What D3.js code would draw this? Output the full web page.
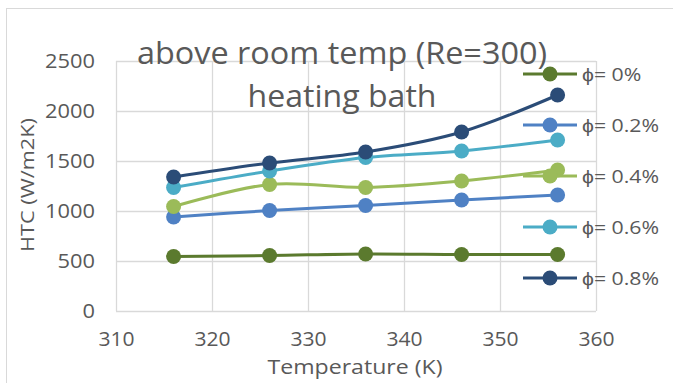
<!DOCTYPE html>
<html>
<head>
<meta charset="utf-8">
<script src="https://cdn.jsdelivr.net/npm/d3@7"></script>
<style>
  html, body { margin: 0; padding: 0; background: #fff; }
  svg { display: block; font-family: "Open Sans", sans-serif; }
</style>
</head>
<body>
<div id="chart"></div>
<script>
// Temperature (K) of each measurement
const temperatures = [316, 326, 336, 346, 356];

// Heat transfer coefficient (W/m2K) per nanofluid volume fraction
const htcPhi0  = [545, 555, 570, 565, 565];
const htcPhi02 = [940, 1005, 1055, 1110, 1160];
const htcPhi04 = [1045, 1265, 1235, 1300, 1410];
const htcPhi06 = [1235, 1400, 1535, 1600, 1710];
const htcPhi08 = [1340, 1480, 1590, 1790, 2160];

const seriesNames = ["ϕ= 0%", "ϕ= 0.2%", "ϕ= 0.4%", "ϕ= 0.6%", "ϕ= 0.8%"];
const seriesColors = ["#5b7a2e", "#4f81c4", "#9bbb59", "#4bacc6", "#2b4c77"];

const xTicks = [310, 320, 330, 340, 350, 360];
const yTicks = [0, 500, 1000, 1500, 2000, 2500];

const titleLines = ["above room temp (Re=300)", "heating bath"];
const xTitle = "Temperature (K)";
const yTitle = "HTC (W/m2K)";

const W = 673, H = 383;
const plot = { left: 116, right: 596, top: 61, bottom: 311 };
const textColor = "#595959";
const gridColor = "#d9d9d9";

const series = [htcPhi0, htcPhi02, htcPhi04, htcPhi06, htcPhi08].map((vals, i) => ({
  name: seriesNames[i],
  color: seriesColors[i],
  points: vals.map((v, j) => ({ x: temperatures[j], y: v }))
}));

const x = d3.scaleLinear().domain([310, 360]).range([plot.left, plot.right]);
const y = d3.scaleLinear().domain([0, 2500]).range([plot.bottom, plot.top]);

const svg = d3.select("#chart").append("svg").attr("width", W).attr("height", H);

// widen glyphs horizontally by a factor, or to a fixed length
function stretch(sel, factor) {
  sel.each(function () {
    const w = this.getComputedTextLength();
    d3.select(this).attr("textLength", w * factor).attr("lengthAdjust", "spacingAndGlyphs");
  });
}
function fitWidth(sel, width) {
  sel.attr("textLength", width).attr("lengthAdjust", "spacingAndGlyphs");
}

// chart frame
svg.append("rect")
  .attr("x", 6.5).attr("y", 8.5).attr("width", 720).attr("height", 420)
  .attr("fill", "#fff").attr("stroke", gridColor).attr("stroke-width", 1);

// gridlines via axes
svg.append("g")
  .attr("transform", `translate(0,${plot.bottom})`)
  .call(d3.axisBottom(x).tickValues(xTicks).tickSize(-(plot.bottom - plot.top)).tickFormat(""))
  .call(g => g.select(".domain").remove())
  .call(g => g.selectAll("line").attr("stroke", gridColor).attr("stroke-width", 1.3));

svg.append("g")
  .attr("transform", `translate(${plot.left},0)`)
  .call(d3.axisLeft(y).tickValues(yTicks).tickSize(-(plot.right - plot.left)).tickFormat(""))
  .call(g => g.select(".domain").remove())
  .call(g => g.selectAll("line").attr("stroke", gridColor).attr("stroke-width", 1.3));

// tick labels
const yLabels = svg.append("g")
  .attr("transform", `translate(${plot.left},0)`)
  .call(d3.axisLeft(y).tickValues(yTicks).tickFormat(d3.format("d")).tickSize(0).tickPadding(21))
  .call(g => g.select(".domain").remove());
yLabels.selectAll("text")
  .attr("fill", textColor).attr("font-size", 19.5).attr("font-family", "Open Sans, sans-serif");
stretch(yLabels.selectAll("text"), 1.12);

const xLabels = svg.append("g")
  .attr("transform", `translate(0,${plot.bottom})`)
  .call(d3.axisBottom(x).tickValues(xTicks).tickFormat(d3.format("d")).tickSize(0).tickPadding(21))
  .call(g => g.select(".domain").remove());
xLabels.selectAll("text")
  .attr("fill", textColor).attr("font-size", 19.5).attr("font-family", "Open Sans, sans-serif");
stretch(xLabels.selectAll("text"), 1.08);

// axis titles
svg.append("text")
  .attr("x", (plot.left + plot.right) / 2 - 1).attr("y", 374)
  .attr("text-anchor", "middle").attr("fill", textColor).attr("font-size", 19.5)
  .text(xTitle)
  .call(fitWidth, 175);

svg.append("text")
  .attr("transform", `translate(34,${(plot.top + plot.bottom) / 2 - 1}) rotate(-90)`)
  .attr("text-anchor", "middle").attr("fill", textColor).attr("font-size", 18.5)
  .text(yTitle)
  .call(fitWidth, 134);

// series lines and markers
const line = d3.line()
  .x(d => x(d.x)).y(d => y(d.y))
  .curve(d3.curveCatmullRom.alpha(0));

const sg = svg.append("g").selectAll("g").data(series).join("g");
sg.append("path")
  .attr("d", d => line(d.points))
  .attr("fill", "none").attr("stroke", d => d.color)
  .attr("stroke-width", 3).attr("stroke-linejoin", "round").attr("stroke-linecap", "round");
sg.selectAll("circle").data(d => d.points.map(p => ({ ...p, color: d.color })))
  .join("circle")
  .attr("cx", d => x(d.x)).attr("cy", d => y(d.y)).attr("r", 7.5)
  .attr("fill", d => d.color);

// title
const titleG = svg.append("g").attr("fill", textColor).attr("text-anchor", "middle");
titleG.append("text").attr("x", 342).attr("y", 64).attr("font-size", 31)
  .text(titleLines[0]).call(fitWidth, 410);
titleG.append("text").attr("x", 342).attr("y", 107).attr("font-size", 31)
  .text(titleLines[1]).call(fitWidth, 189);

// legend
const legendY = d3.scalePoint().domain(seriesNames).range([74, 278]);
const lg = svg.append("g").selectAll("g").data(series).join("g")
  .attr("transform", d => `translate(0,${legendY(d.name)})`);
lg.append("line")
  .attr("x1", 523).attr("x2", 577).attr("y1", 0).attr("y2", 0)
  .attr("stroke", d => d.color).attr("stroke-width", 3);
lg.append("circle").attr("cx", 550).attr("cy", 0).attr("r", 7.5).attr("fill", d => d.color);
const lt = lg.append("text")
  .attr("x", 582).attr("y", 0).attr("dy", "0.36em")
  .attr("fill", textColor).attr("font-size", 19)
  .text(d => d.name);
stretch(lt, 1.12);
</script>
</body>
</html>
